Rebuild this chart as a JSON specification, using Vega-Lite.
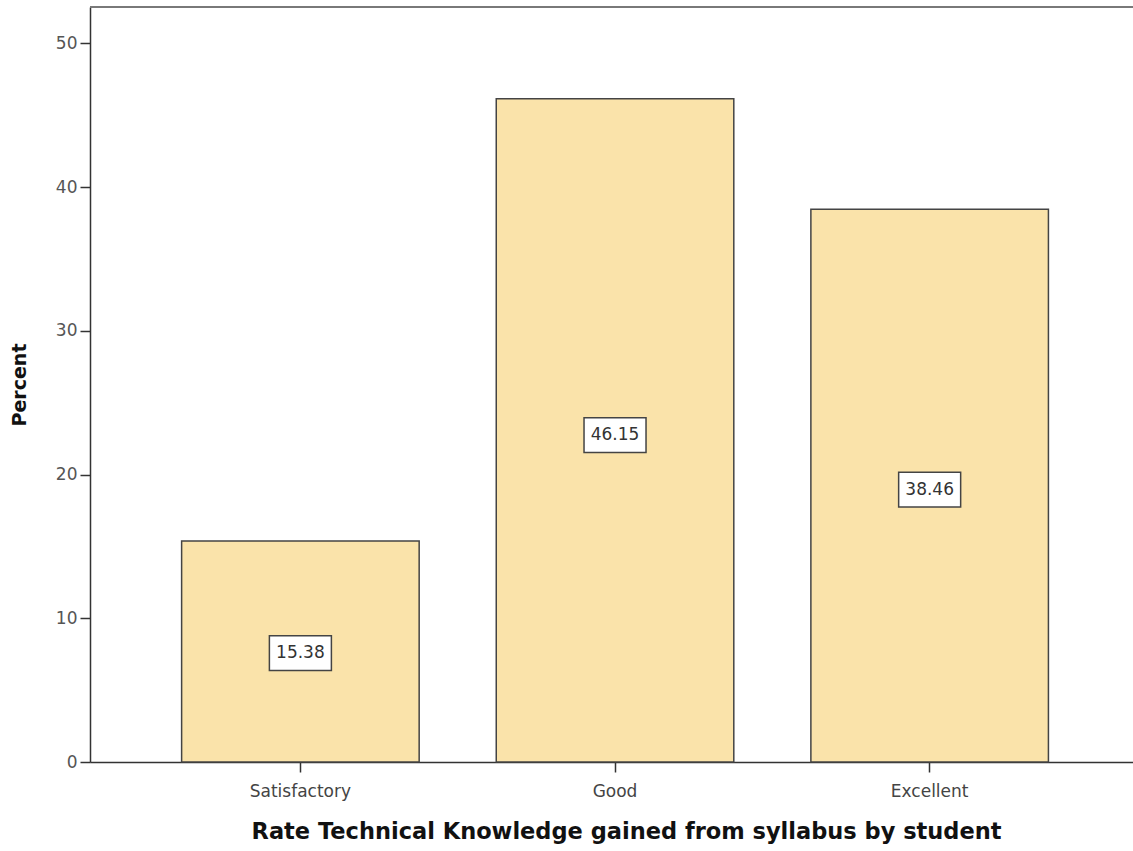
{
  "$schema": "https://vega.github.io/schema/vega-lite/v6.json",
  "width": 1043,
  "height": 755,
  "autosize": {"type": "none"},
  "padding": {"left": 90, "top": 7, "right": 0, "bottom": 89},
  "background": "white",
  "config": {"view": {"stroke": null}, "font": "DejaVu Sans"},
  "data": {"values": [
    {"rating": "Satisfactory", "percent": 15.38},
    {"rating": "Good", "percent": 46.15},
    {"rating": "Excellent", "percent": 38.46}
  ]},
  "layer": [
    {
      "layer": [
        {
          "mark": {"type": "bar", "fill": "#FAE3AA", "stroke": "#444", "strokeWidth": 1.5},
          "encoding": {
            "x": {"field": "rating", "type": "nominal", "sort": ["Satisfactory", "Good", "Excellent"],
              "scale": {"paddingInner": 0.245, "paddingOuter": 0.28, "align": 0.52},
              "title": "Rate Technical Knowledge gained from syllabus by student",
              "axis": {"labelAngle": 0, "domainColor": "#333", "domainWidth": 1.5, "tickColor": "#333", "tickWidth": 1.5, "tickSize": 10, "labelFontSize": 17, "labelColor": "#444", "labelPadding": 11, "titleFontSize": 22.5, "titleFontWeight": "bold", "titleColor": "#111", "titlePadding": 21, "titleX": 536}},
            "y": {"field": "percent", "type": "quantitative", "title": "Percent",
              "scale": {"domain": [0, 52.54], "nice": false, "zero": true},
              "axis": {"values": [0, 10, 20, 30, 40, 50], "grid": false, "domainColor": "#333", "domainWidth": 1.5, "tickColor": "#333", "tickWidth": 1.5, "tickSize": 10, "labelFontSize": 17, "labelColor": "#555", "labelPadding": 3, "titleFontSize": 19, "titleFontWeight": "bold", "titleColor": "#111", "titlePadding": 26}}
          }
        },
        {
          "mark": {"type": "rule", "color": "#777", "strokeWidth": 1.5},
          "encoding": {"y": {"datum": 52.54, "title": "Percent"}}
        }
      ]
    },
    {
      "layer": [
        {
          "mark": {"type": "point", "shape": "M-1,-0.56H1V0.56H-1Z", "size": 3844, "filled": true, "fill": "white", "stroke": "#444", "strokeWidth": 1.5, "opacity": 1},
          "encoding": {
            "x": {"field": "rating", "type": "nominal", "sort": ["Satisfactory", "Good", "Excellent"],
              "scale": {"paddingInner": 0.245, "paddingOuter": 0.28, "align": 0.52},
              "title": "Rate Technical Knowledge gained from syllabus by student"},
            "y": {"field": "percent", "type": "quantitative", "scale": {"domain": [0, 106.6], "nice": false}, "axis": null}
          }
        },
        {
          "mark": {"type": "text", "fontSize": 17, "color": "#333", "baseline": "middle", "align": "center"},
          "encoding": {
            "x": {"field": "rating", "type": "nominal", "sort": ["Satisfactory", "Good", "Excellent"],
              "scale": {"paddingInner": 0.245, "paddingOuter": 0.28, "align": 0.52},
              "title": "Rate Technical Knowledge gained from syllabus by student"},
            "y": {"field": "percent", "type": "quantitative", "scale": {"domain": [0, 106.6], "nice": false}, "axis": null},
            "text": {"field": "percent", "type": "quantitative", "format": ".2f"}
          }
        }
      ]
    }
  ],
  "resolve": {"scale": {"y": "independent"}}
}
